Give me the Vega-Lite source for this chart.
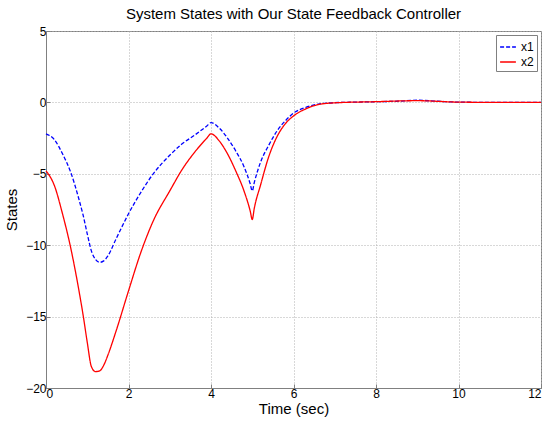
{
  "$schema": "https://vega.github.io/schema/vega-lite/v6.json",
  "width": 495,
  "height": 357,
  "autosize": {"type": "none"},
  "padding": {"left": 46, "top": 31, "right": 7, "bottom": 38},
  "background": "white",
  "title": {"text": "System States with Our State Feedback Controller", "font": "Liberation Sans", "fontSize": 15, "fontWeight": "normal", "color": "#000000", "offset": 3},
  "config": {
    "view": {"stroke": "#808080", "strokeWidth": 1},
    "axis": {"labelFont": "Liberation Sans", "labelFontSize": 12, "labelColor": "#000000", "titleFont": "Liberation Sans", "titleFontSize": 15, "titleFontWeight": "normal", "titleColor": "#000000", "gridColor": "#b0b0b0", "gridDash": [1, 2], "gridWidth": 1, "domainColor": "#808080", "tickColor": "#808080", "tickSize": -4}
  },
  "data": {"values": [
    {"t": 0, "y": -2.2, "s": "x1"}, {"t": 0.2, "y": -2.6, "s": "x1"}, {"t": 0.4, "y": -3.6, "s": "x1"}, {"t": 0.6, "y": -4.9, "s": "x1"}, {"t": 0.8, "y": -6.8, "s": "x1"}, {"t": 0.9, "y": -7.9, "s": "x1"}, {"t": 1.0, "y": -9.2, "s": "x1"}, {"t": 1.1, "y": -10.4, "s": "x1"}, {"t": 1.2, "y": -11.0, "s": "x1"}, {"t": 1.3, "y": -11.2, "s": "x1"}, {"t": 1.4, "y": -11.1, "s": "x1"}, {"t": 1.5, "y": -10.75, "s": "x1"}, {"t": 1.7, "y": -9.55, "s": "x1"}, {"t": 2.0, "y": -7.8, "s": "x1"}, {"t": 2.3, "y": -6.3, "s": "x1"}, {"t": 2.6, "y": -5.0, "s": "x1"}, {"t": 3.0, "y": -3.7, "s": "x1"}, {"t": 3.3, "y": -2.9, "s": "x1"}, {"t": 3.6, "y": -2.3, "s": "x1"}, {"t": 3.9, "y": -1.65, "s": "x1"}, {"t": 4.0, "y": -1.42, "s": "x1"}, {"t": 4.2, "y": -1.8, "s": "x1"}, {"t": 4.4, "y": -2.5, "s": "x1"}, {"t": 4.6, "y": -3.4, "s": "x1"}, {"t": 4.8, "y": -4.5, "s": "x1"}, {"t": 4.95, "y": -5.7, "s": "x1"}, {"t": 5.0, "y": -6.2, "s": "x1"}, {"t": 5.05, "y": -5.6, "s": "x1"}, {"t": 5.2, "y": -4.2, "s": "x1"}, {"t": 5.4, "y": -3.0, "s": "x1"}, {"t": 5.6, "y": -2.0, "s": "x1"}, {"t": 5.8, "y": -1.3, "s": "x1"}, {"t": 6.0, "y": -0.75, "s": "x1"}, {"t": 6.3, "y": -0.35, "s": "x1"}, {"t": 6.6, "y": -0.12, "s": "x1"}, {"t": 7.0, "y": -0.02, "s": "x1"}, {"t": 7.5, "y": 0.02, "s": "x1"}, {"t": 8.0, "y": 0.05, "s": "x1"}, {"t": 8.5, "y": 0.08, "s": "x1"}, {"t": 9.0, "y": 0.15, "s": "x1"}, {"t": 9.5, "y": 0.08, "s": "x1"}, {"t": 10.0, "y": 0.02, "s": "x1"}, {"t": 11.0, "y": 0.0, "s": "x1"}, {"t": 12.0, "y": 0.0, "s": "x1"},
    {"t": 0, "y": -4.8, "s": "x2"}, {"t": 0.2, "y": -5.8, "s": "x2"}, {"t": 0.4, "y": -7.8, "s": "x2"}, {"t": 0.6, "y": -10.2, "s": "x2"}, {"t": 0.8, "y": -13.2, "s": "x2"}, {"t": 0.9, "y": -14.9, "s": "x2"}, {"t": 1.0, "y": -16.8, "s": "x2"}, {"t": 1.1, "y": -18.5, "s": "x2"}, {"t": 1.2, "y": -18.85, "s": "x2"}, {"t": 1.3, "y": -18.8, "s": "x2"}, {"t": 1.4, "y": -18.4, "s": "x2"}, {"t": 1.5, "y": -17.7, "s": "x2"}, {"t": 1.7, "y": -16.0, "s": "x2"}, {"t": 2.0, "y": -13.2, "s": "x2"}, {"t": 2.3, "y": -10.5, "s": "x2"}, {"t": 2.6, "y": -8.3, "s": "x2"}, {"t": 3.0, "y": -6.2, "s": "x2"}, {"t": 3.3, "y": -4.7, "s": "x2"}, {"t": 3.6, "y": -3.5, "s": "x2"}, {"t": 3.9, "y": -2.5, "s": "x2"}, {"t": 4.0, "y": -2.2, "s": "x2"}, {"t": 4.2, "y": -2.7, "s": "x2"}, {"t": 4.4, "y": -3.6, "s": "x2"}, {"t": 4.6, "y": -4.8, "s": "x2"}, {"t": 4.8, "y": -6.2, "s": "x2"}, {"t": 4.95, "y": -7.6, "s": "x2"}, {"t": 5.0, "y": -8.2, "s": "x2"}, {"t": 5.05, "y": -7.4, "s": "x2"}, {"t": 5.2, "y": -5.8, "s": "x2"}, {"t": 5.4, "y": -3.8, "s": "x2"}, {"t": 5.6, "y": -2.4, "s": "x2"}, {"t": 5.8, "y": -1.5, "s": "x2"}, {"t": 6.0, "y": -0.95, "s": "x2"}, {"t": 6.3, "y": -0.45, "s": "x2"}, {"t": 6.6, "y": -0.15, "s": "x2"}, {"t": 7.0, "y": -0.03, "s": "x2"}, {"t": 8.0, "y": 0.05, "s": "x2"}, {"t": 9.0, "y": 0.12, "s": "x2"}, {"t": 10.0, "y": 0.02, "s": "x2"}, {"t": 11.0, "y": 0.0, "s": "x2"}, {"t": 12.0, "y": 0.0, "s": "x2"}
  ]},
  "mark": {"type": "line", "interpolate": "monotone", "strokeWidth": 1.3},
  "encoding": {
    "x": {"field": "t", "type": "quantitative", "scale": {"domain": [0, 12], "nice": false}, "axis": {"values": [0, 2, 4, 6, 8, 10, 12], "title": "Time (sec)", "titlePadding": 2, "labelPadding": 4}},
    "y": {"field": "y", "type": "quantitative", "scale": {"domain": [-20, 5], "nice": false}, "axis": {"values": [-20, -15, -10, -5, 0, 5], "title": "States", "titlePadding": 6, "labelPadding": 4}},
    "color": {"field": "s", "type": "nominal", "scale": {"domain": ["x1", "x2"], "range": ["#0000ff", "#ff0000"]}, "legend": {"title": null, "orient": "top-right", "offset": 4, "symbolType": "stroke", "symbolStrokeWidth": 1.3, "symbolSize": 250, "labelFont": "Liberation Sans", "labelFontSize": 12, "labelColor": "#000000", "strokeColor": "#808080", "fillColor": "white", "padding": 3, "rowPadding": 0, "symbolDash": {"expr": "datum.value == 'x1' ? [3, 2] : []"}}},
    "strokeDash": {"field": "s", "type": "nominal", "scale": {"domain": ["x1", "x2"], "range": [[4, 2], [1, 0]]}, "legend": null}
  }
}
